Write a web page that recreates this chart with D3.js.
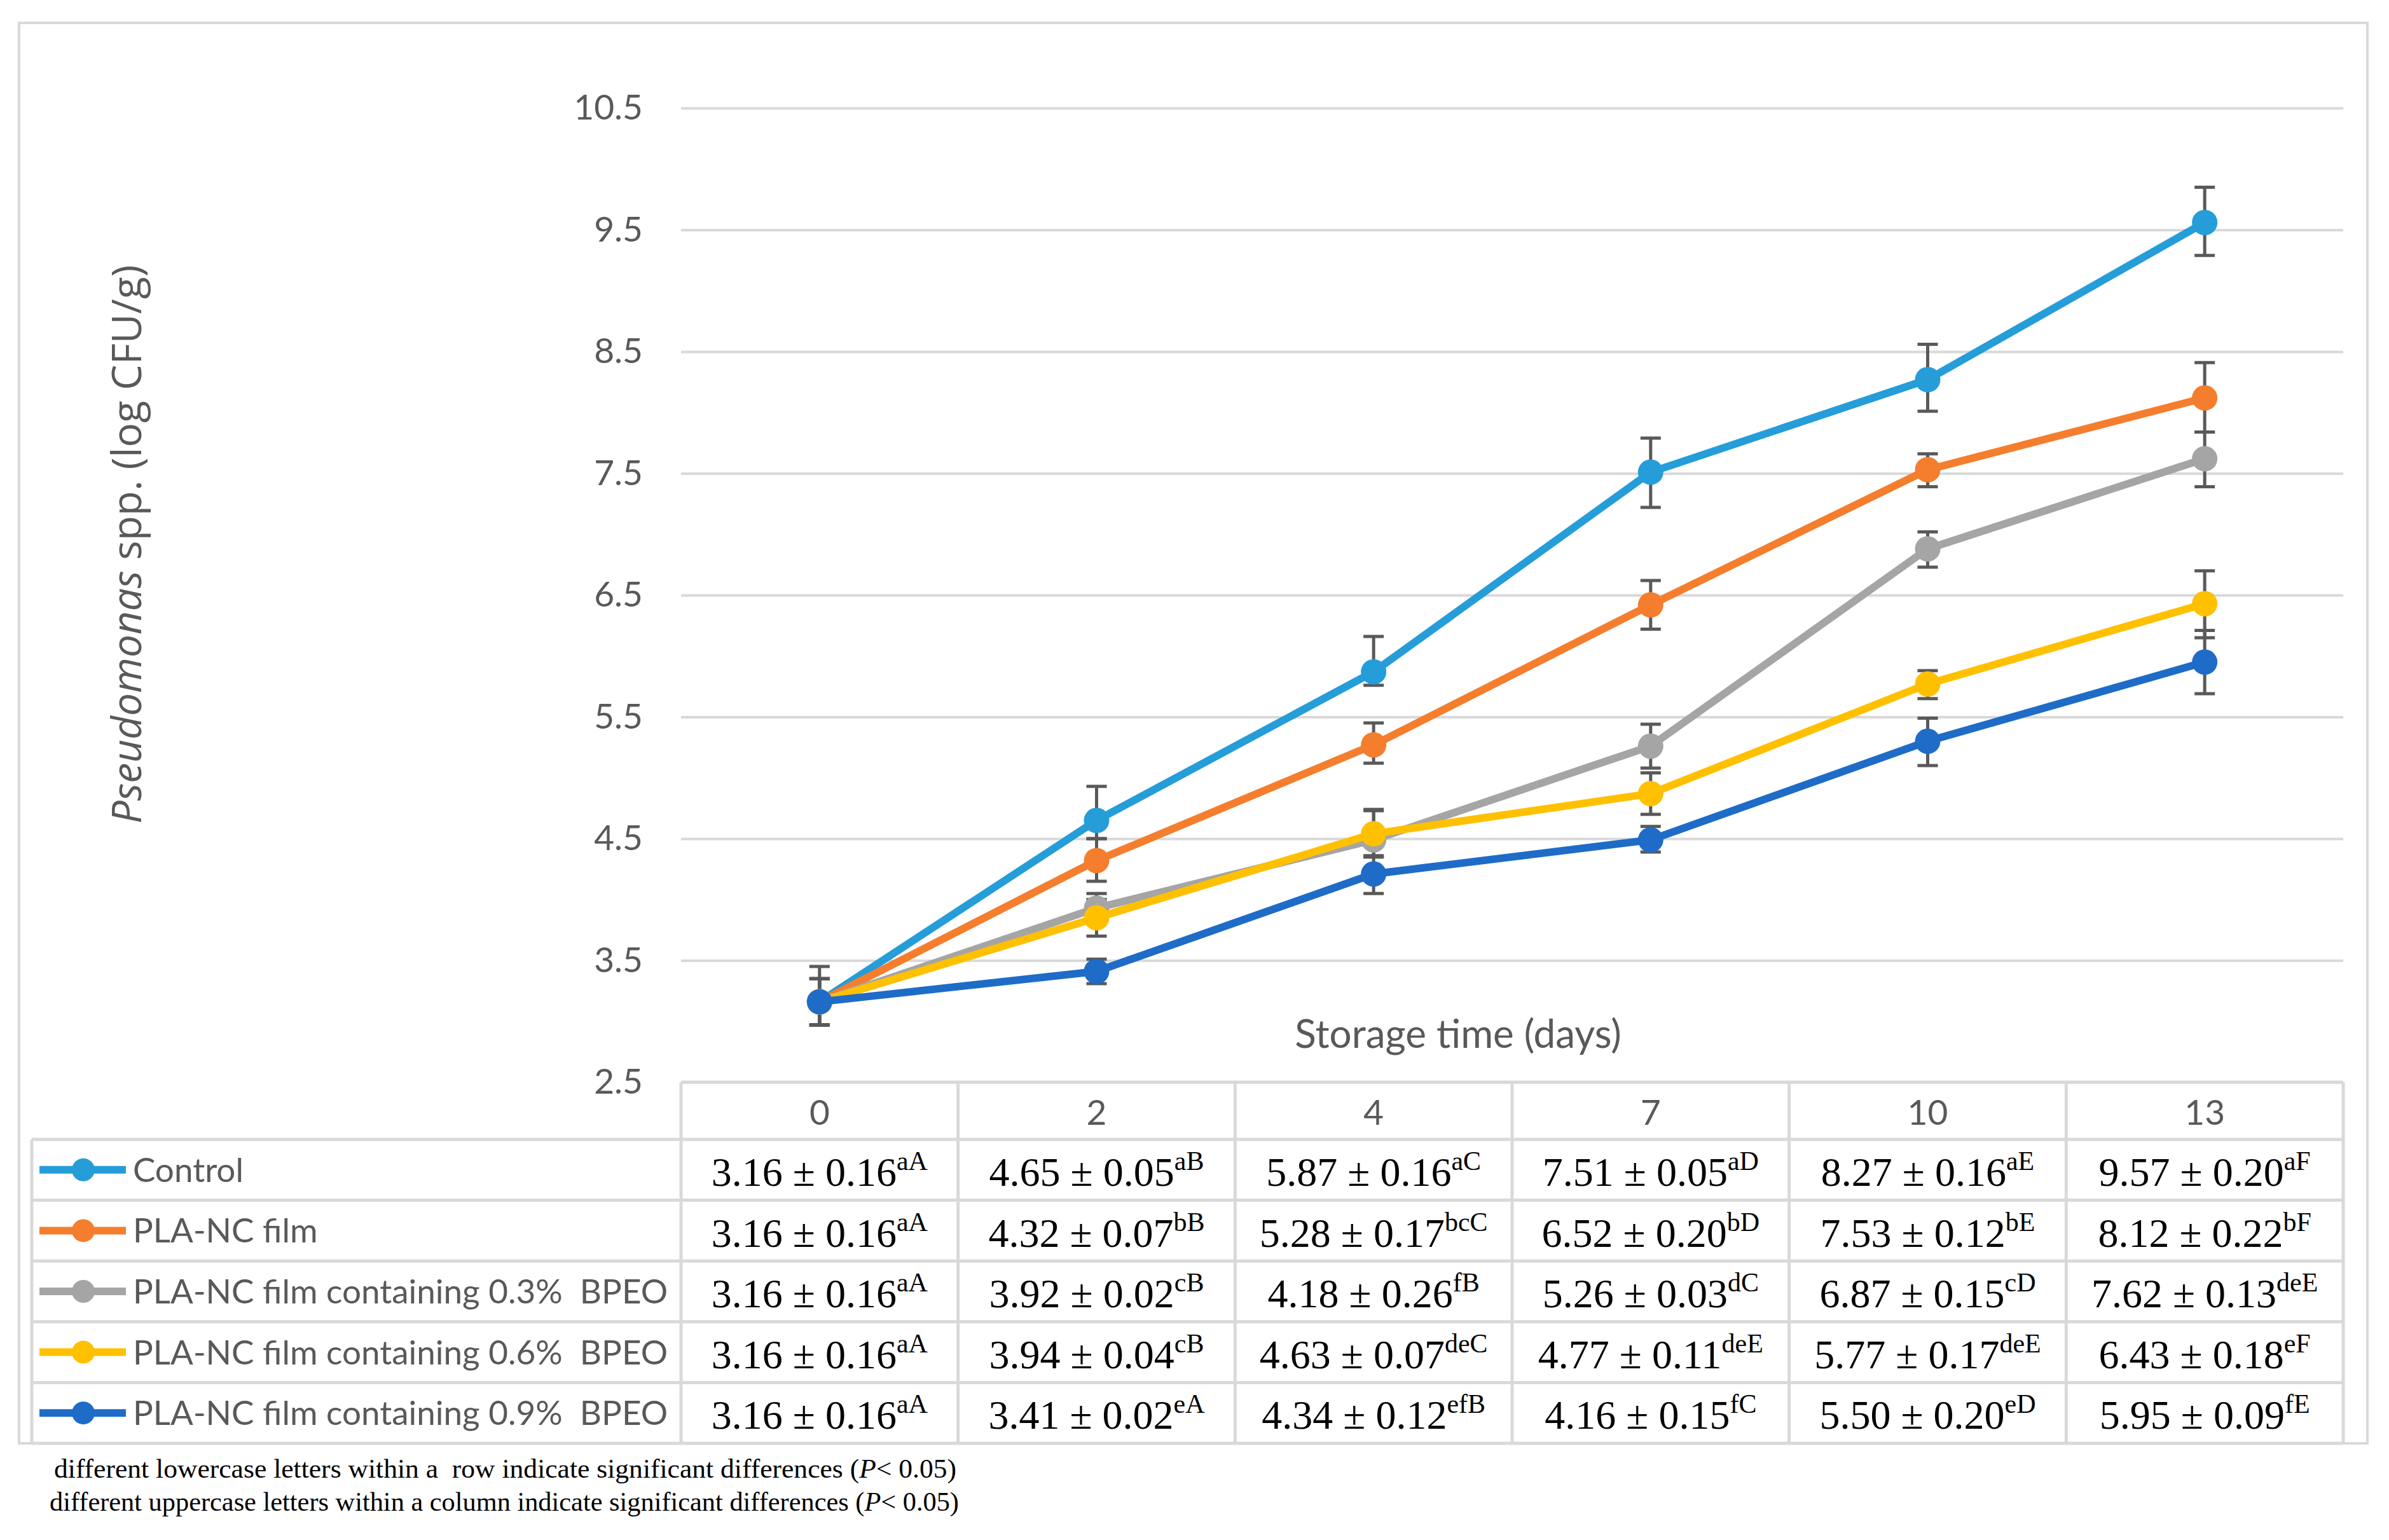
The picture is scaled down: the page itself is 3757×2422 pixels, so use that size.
<!DOCTYPE html>
<html>
<head>
<meta charset="utf-8">
<script src="https://cdn.jsdelivr.net/npm/d3@7"></script>
<style>
	body { margin: 0; background: #fff; }
	text { white-space: pre; }
</style>
</head>
<body>
<div id="chart"></div>
<script>
// categories (storage days) and series names
const days = ["0", "2", "4", "7", "10", "13"];
const seriesNames = [
	"Control",
	"PLA-NC film",
	"PLA-NC film containing 0.3%  BPEO",
	"PLA-NC film containing 0.6%  BPEO",
	"PLA-NC film containing 0.9%  BPEO",
];
const colors = ["#259DD9", "#F47E2E", "#A5A5A5", "#FFC000", "#1E6CC8"];

// plotted means
const control = [3.16, 4.65, 5.87, 7.51, 8.27, 9.56];
const plaNc = [3.16, 4.32, 5.27, 6.42, 7.53, 8.12];
const bpeo03 = [3.16, 3.93, 4.49, 5.26, 6.88, 7.62];
const bpeo06 = [3.16, 3.85, 4.54, 4.87, 5.77, 6.43];
const bpeo09 = [3.16, 3.41, 4.21, 4.49, 5.30, 5.95];

// error bars [plus, minus]
const controlErr = [[0.29, 0.19], [0.28, 0.15], [0.29, 0.11], [0.28, 0.29], [0.29, 0.26], [0.29, 0.27]];
const plaNcErr = [[0.19, 0.19], [0.18, 0.17], [0.18, 0.15], [0.20, 0.20], [0.13, 0.14], [0.29, 0.28]];
const bpeo03Err = [[0.19, 0.19], [0.12, 0.12], [0.24, 0.14], [0.18, 0.18], [0.14, 0.15], [0.22, 0.23]];
const bpeo06Err = [[0.19, 0.19], [0.15, 0.15], [0.20, 0.18], [0.17, 0.17], [0.11, 0.12], [0.27, 0.28]];
const bpeo09Err = [[0.19, 0.19], [0.10, 0.10], [0.14, 0.16], [0.11, 0.10], [0.19, 0.20], [0.26, 0.26]];

// data table texts [value, superscript letters]
const tblControl = [["3.16 ± 0.16", "aA"], ["4.65 ± 0.05", "aB"], ["5.87 ± 0.16", "aC"], ["7.51 ± 0.05", "aD"], ["8.27 ± 0.16", "aE"], ["9.57 ± 0.20", "aF"]];
const tblPlaNc = [["3.16 ± 0.16", "aA"], ["4.32 ± 0.07", "bB"], ["5.28 ± 0.17", "bcC"], ["6.52 ± 0.20", "bD"], ["7.53 ± 0.12", "bE"], ["8.12 ± 0.22", "bF"]];
const tblBpeo03 = [["3.16 ± 0.16", "aA"], ["3.92 ± 0.02", "cB"], ["4.18 ± 0.26", "fB"], ["5.26 ± 0.03", "dC"], ["6.87 ± 0.15", "cD"], ["7.62 ± 0.13", "deE"]];
const tblBpeo06 = [["3.16 ± 0.16", "aA"], ["3.94 ± 0.04", "cB"], ["4.63 ± 0.07", "deC"], ["4.77 ± 0.11", "deE"], ["5.77 ± 0.17", "deE"], ["6.43 ± 0.18", "eF"]];
const tblBpeo09 = [["3.16 ± 0.16", "aA"], ["3.41 ± 0.02", "eA"], ["4.34 ± 0.12", "efB"], ["4.16 ± 0.15", "fC"], ["5.50 ± 0.20", "eD"], ["5.95 ± 0.09", "fE"]];

const yTicks = [2.5, 3.5, 4.5, 5.5, 6.5, 7.5, 8.5, 9.5, 10.5];
const footnotes = [
	["different lowercase letters within a  row indicate significant differences (", "P", "< 0.05)"],
	["different uppercase letters within a column indicate significant differences (", "P", "< 0.05)"],
];

const series = seriesNames.map((name, i) => ({
	name: name,
	color: colors[i],
	values: [control, plaNc, bpeo03, bpeo06, bpeo09][i],
	err: [controlErr, plaNcErr, bpeo03Err, bpeo06Err, bpeo09Err][i],
	table: [tblControl, tblPlaNc, tblBpeo03, tblBpeo06, tblBpeo09][i],
}));

const W = 3757, H = 2422;
const plotLeft = 1071, plotRight = 3685, plotTop = 170, plotBottom = 1702;
const tableLeft = 50, tableBottom = 2270;
const grid = "#D9D9D9";
const sansFont = "Lato, Carlito, sans-serif";

const svg = d3.select("#chart")
	.append("svg")
	.attr("width", W)
	.attr("height", H)
	.style("font-family", sansFont);

svg.append("rect").attr("width", W).attr("height", H).attr("fill", "#fff");

// outer chart border
svg.append("rect")
	.attr("x", 30).attr("y", 36)
	.attr("width", 3693).attr("height", tableBottom - 36)
	.attr("fill", "none")
	.attr("stroke", grid)
	.attr("stroke-width", 4);

// scales
const x = d3.scaleBand().domain(days).range([plotLeft, plotRight]);
const cx = d => x(d) + x.bandwidth() / 2;
const y = d3.scaleLinear().domain([2.5, 10.5]).range([plotBottom, plotTop]);
const rowY = d3.scaleBand().domain(seriesNames).range([1792, tableBottom]);

// Y axis with gridlines
const yAxis = svg.append("g")
	.attr("transform", `translate(${plotLeft},0)`)
	.call(d3.axisLeft(y)
		.tickValues(yTicks)
		.tickFormat(d3.format(".1f"))
		.tickSize(-(plotRight - plotLeft))
		.tickPadding(60));
yAxis.select(".domain").remove();
yAxis.selectAll(".tick line").attr("stroke", grid).attr("stroke-width", 4);
yAxis.selectAll(".tick text")
	.attr("fill", "#595959")
	.style("font-size", "55px")
	.style("font-family", sansFont);

// Y axis title
svg.append("text")
	.attr("transform", "translate(222,856) rotate(-90)")
	.attr("text-anchor", "middle")
	.attr("fill", "#595959")
	.style("font-family", "'Open Sans', sans-serif")
	.style("font-size", "64px")
	.call(t => {
		t.append("tspan").style("font-style", "italic").text("Pseudomonas");
		t.append("tspan").text(" spp. (log CFU/g)");
	});

// X axis title
svg.append("text")
	.attr("x", 2293)
	.attr("y", 1648)
	.attr("text-anchor", "middle")
	.attr("fill", "#595959")
	.style("font-size", "62px")
	.text("Storage time (days)");

// error bars
const capW = 16;
series.forEach(s => {
	const g = svg.append("g").attr("stroke", "#595959").attr("stroke-width", 5);
	s.values.forEach((v, i) => {
		const px = cx(days[i]);
		const top = y(v + s.err[i][0]), bot = y(v - s.err[i][1]);
		g.append("line").attr("x1", px).attr("x2", px).attr("y1", top).attr("y2", bot);
		g.append("line").attr("x1", px - capW).attr("x2", px + capW).attr("y1", top).attr("y2", top);
		g.append("line").attr("x1", px - capW).attr("x2", px + capW).attr("y1", bot).attr("y2", bot);
	});
});

// lines and markers
const line = d3.line().x((d, i) => cx(days[i])).y(d => y(d));
series.forEach(s => {
	svg.append("path")
		.datum(s.values)
		.attr("d", line)
		.attr("fill", "none")
		.attr("stroke", s.color)
		.attr("stroke-width", 12)
		.attr("stroke-linejoin", "round");
	svg.selectAll(null)
		.data(s.values)
		.enter()
		.append("circle")
		.attr("cx", (d, i) => cx(days[i]))
		.attr("cy", d => y(d))
		.attr("r", 20)
		.attr("fill", s.color);
});

// data table: header with day labels
const xAxis = svg.append("g")
	.attr("transform", `translate(0,${plotBottom})`)
	.call(d3.axisBottom(x).tickSize(0).tickPadding(28));
xAxis.select(".domain").remove();
xAxis.selectAll(".tick text")
	.attr("fill", "#595959")
	.style("font-size", "55px")
	.style("font-family", sansFont);

const tbl = svg.append("g").attr("stroke", grid).attr("stroke-width", 5);
// vertical borders
days.concat(["end"]).forEach((d, i) => {
	const xx = i < days.length ? x(d) : plotRight;
	tbl.append("line").attr("x1", xx).attr("x2", xx).attr("y1", plotBottom).attr("y2", tableBottom);
});
tbl.append("line").attr("x1", tableLeft).attr("x2", tableLeft).attr("y1", rowY.range()[0]).attr("y2", tableBottom);
// horizontal borders
tbl.append("line").attr("x1", plotLeft).attr("x2", plotRight).attr("y1", plotBottom).attr("y2", plotBottom);
seriesNames.forEach(n => {
	tbl.append("line").attr("x1", tableLeft).attr("x2", plotRight).attr("y1", rowY(n)).attr("y2", rowY(n));
});
tbl.append("line").attr("x1", tableLeft).attr("x2", plotRight).attr("y1", tableBottom).attr("y2", tableBottom);

// legend keys + labels in first column
series.forEach(s => {
	const my = rowY(s.name) + rowY.bandwidth() / 2;
	svg.append("line")
		.attr("x1", 62).attr("x2", 198)
		.attr("y1", my).attr("y2", my)
		.attr("stroke", s.color)
		.attr("stroke-width", 12);
	svg.append("circle").attr("cx", 131).attr("cy", my).attr("r", 18).attr("fill", s.color);
	svg.append("text")
		.attr("x", 209)
		.attr("y", my + 19)
		.attr("fill", "#595959")
		.style("font-size", "53px")
		.text(s.name);
});

// table values
series.forEach(s => {
	s.table.forEach((cell, i) => {
		svg.append("text")
			.attr("x", cx(days[i]))
			.attr("y", rowY(s.name) + 73)
			.attr("text-anchor", "middle")
			.attr("fill", "#000")
			.style("font-family", "'Liberation Serif', 'Times New Roman', serif")
			.style("font-size", "64px")
			.call(t => {
				t.append("tspan").text(cell[0]);
				t.append("tspan").attr("dy", -25).style("font-size", "42px").text(cell[1]);
			});
	});
});

// footnotes
footnotes.forEach((f, i) => {
	svg.append("text")
		.attr("x", i === 0 ? 85 : 78)
		.attr("y", i === 0 ? 2324 : 2376)
		.attr("textLength", i === 0 ? 1419 : 1430)
		.attr("lengthAdjust", "spacingAndGlyphs")
		.attr("fill", "#000")
		.style("font-family", "'Liberation Serif', 'Times New Roman', serif")
		.style("font-size", "42px")
		.call(t => {
			t.append("tspan").text(f[0]);
			t.append("tspan").style("font-style", "italic").text(f[1]);
			t.append("tspan").text(f[2]);
		});
});
</script>
</body>
</html>
